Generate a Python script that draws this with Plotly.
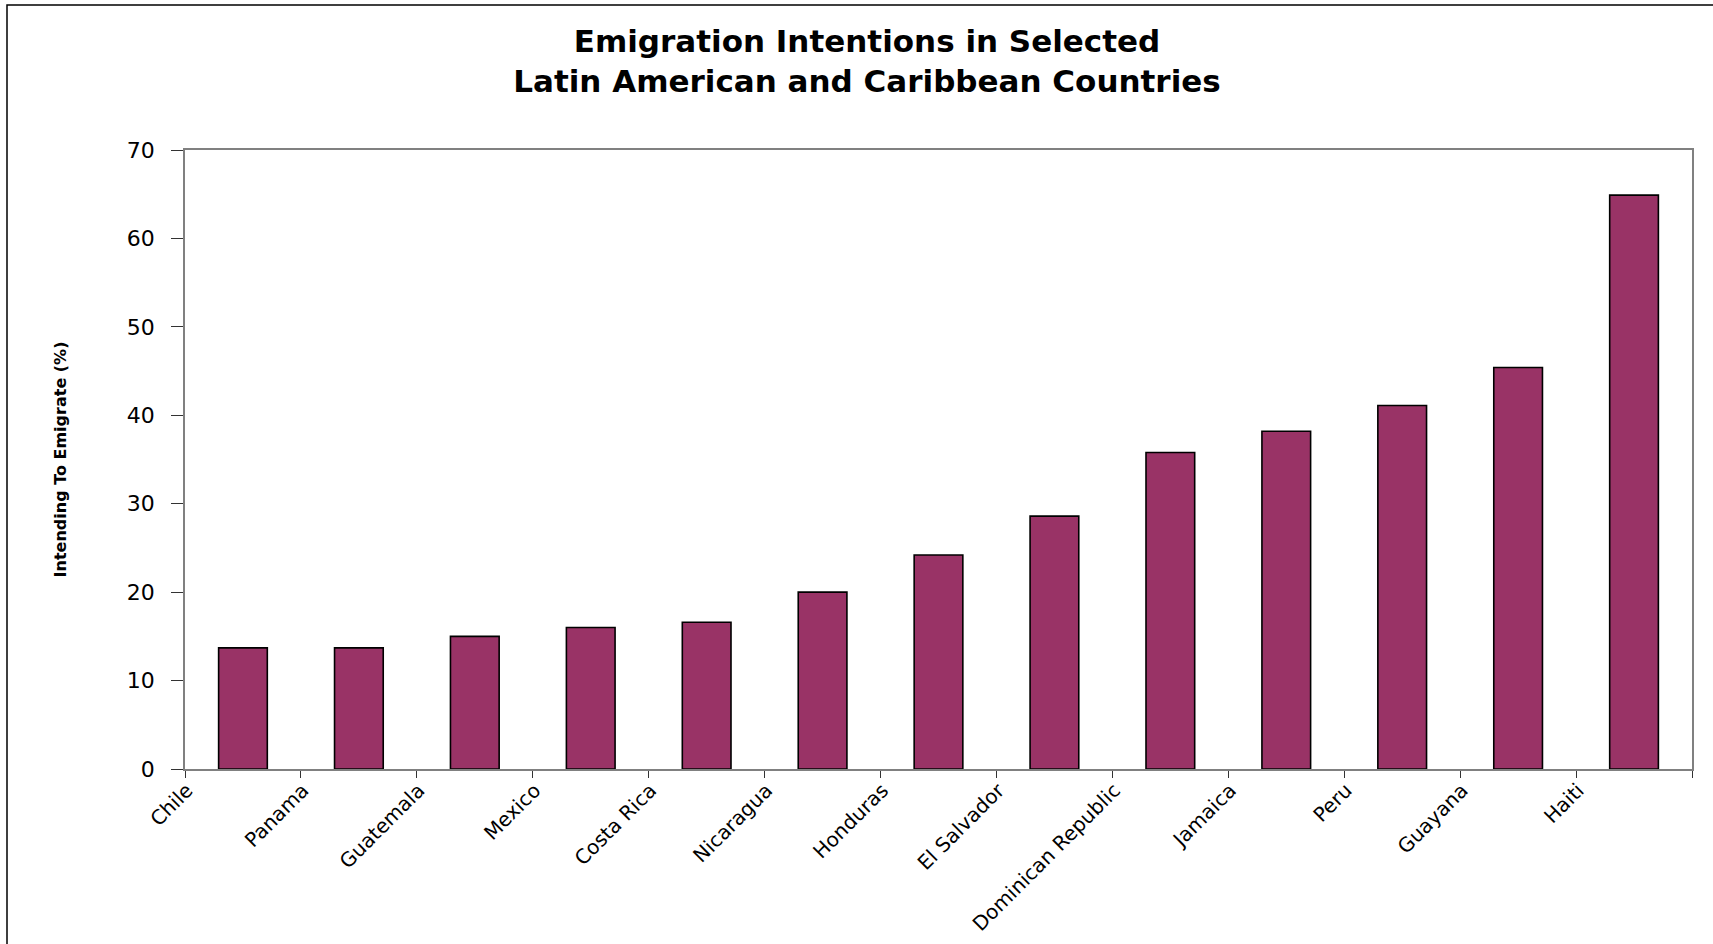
import plotly.graph_objects as go

countries = ["Chile", "Panama", "Guatemala", "Mexico", "Costa Rica", "Nicaragua",
             "Honduras", "El Salvador", "Dominican Republic", "Jamaica", "Peru",
             "Guayana", "Haiti"]
values = [13.7, 13.7, 15.0, 16.0, 16.6, 20.0, 24.2, 28.6, 35.8, 38.2, 41.1, 45.4, 64.9]
y_ticks = [0, 10, 20, 30, 40, 50, 60, 70]

title_text = "<b>Emigration Intentions in Selected<br>Latin American and Caribbean Countries</b>"
y_title = "<b>Intending To Emigrate (%)</b>"

W, H = 1713, 944
L, R, T, B = 185, 21, 150, 175
pw, ph = W - L - R, H - T - B

def px_x(p):
    return (p - L) / pw

def px_y(p):
    return (H - B - p) / ph

fig = go.Figure(go.Bar(
    x=countries, y=values,
    marker=dict(color="#993366", line=dict(color="black", width=1.6)),
))

fig.update_layout(
    width=W, height=H,
    margin=dict(l=L, r=R, t=T, b=B),
    paper_bgcolor="white", plot_bgcolor="white",
    bargap=0.58,
    showlegend=False,
    font=dict(family="DejaVu Sans", color="black"),
    title=dict(text=title_text, x=px_x(867), xref="paper", xanchor="center",
               y=1 - 52 / H, yref="container", yanchor="middle",
               font=dict(family="DejaVu Sans", size=31, color="black")),
    shapes=[dict(type="rect", xref="paper", yref="paper",
                 x0=px_x(7), x1=px_x(1730), y0=px_y(960), y1=px_y(5),
                 line=dict(color="black", width=1.5), layer="below")],
)

fig.update_xaxes(
    type="category", tickson="boundaries", ticks="outside", ticklen=7,
    tickcolor="#333333", tickwidth=1, automargin=False,
    showline=True, linecolor="#808080", linewidth=1.5, mirror=True,
    tickangle=-45, ticklabelshift=-56,
    tickfont=dict(family="DejaVu Sans", size=20, color="black"),
    showgrid=False,
)
fig.update_yaxes(
    range=[0, 70], tickvals=y_ticks, ticks="outside", ticklen=12,
    tickcolor="#333333", tickwidth=1, ticklabelstandoff=12, automargin=False,
    showline=True, linecolor="#808080", linewidth=1.5, mirror=True,
    tickfont=dict(family="DejaVu Sans", size=22, color="black"),
    showgrid=False, zeroline=False,
    title=dict(text=y_title, standoff=56,
               font=dict(family="DejaVu Sans", size=16, color="black")),
)

fig.write_html("out.html")
